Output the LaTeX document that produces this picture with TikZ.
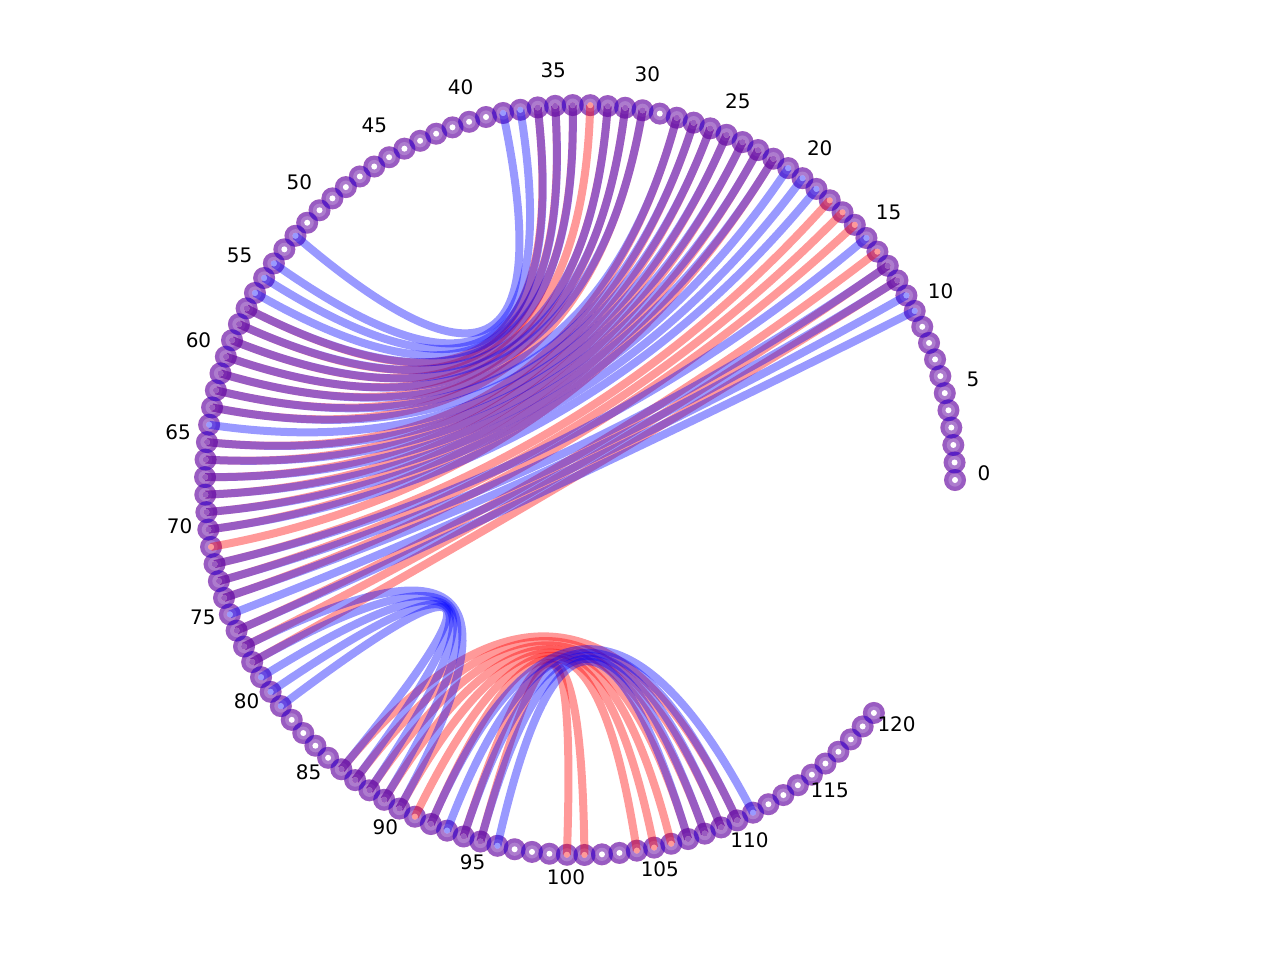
\documentclass[tikz,border=0pt]{standalone}
\usepackage{fontspec}
\setmainfont{DejaVu Sans}
\usetikzlibrary{calc}
\begin{document}
\begin{tikzpicture}[x=0.5pt,y=-0.5pt,
  redarc/.style={draw=red, draw opacity=0.4, line width=4pt, line cap=butt},
  bluearc/.style={draw=blue, draw opacity=0.4, line width=4pt, line cap=butt},
  lbl/.style={font=\fontsize{10}{12}\selectfont, inner sep=0pt, text=black}]
\useasboundingbox (0,0) rectangle (1280,960);
\coordinate (ctr) at (580,480);
% node positions
\foreach \i in {0,...,120}{\coordinate (n\i) at ({580+375*cos(2.68*\i)},{480-375*sin(2.68*\i)});}
% node discs (two overlaid structures)
\foreach \i in {0,...,120}{\fill[red,opacity=0.4] (n\i) circle[radius=5.5pt];}
\foreach \i in {0,...,120}{\fill[blue,opacity=0.4] (n\i) circle[radius=5.5pt];}
\foreach \i in {0,...,120}{\fill[white,opacity=0.2] (n\i) circle[radius=3.3pt];}
% red structure arcs
\foreach \a/\b in {36/57,35/58,34/59,33/60,32/61,31/62,30/63,28/65,27/66,26/67,25/68,24/69,23/70,22/71,18/72,17/73,16/74,14/76,13/77,12/78,86/110,87/109,88/108,89/107,90/106,91/105,92/104,94/101,95/100}
  {\draw[redarc] (n\a) .. controls ($(n\a)!0.6667!(ctr)$) and ($(n\b)!0.6667!(ctr)$) .. (n\b);}
% blue structure arcs
\foreach \a/\b in {38/52,37/54,36/55,35/56,34/57,32/58,31/59,30/60,28/61,27/62,26/63,25/64,24/65,23/66,22/67,21/68,20/69,19/70,15/72,13/73,12/74,11/75,10/76,77/90,78/89,79/88,80/87,81/86,92/111,93/110,94/109,95/108,96/107}
  {\draw[bluearc] (n\a) .. controls ($(n\a)!0.6667!(ctr)$) and ($(n\b)!0.6667!(ctr)$) .. (n\b);}
% centre dots
\foreach \i in {0,...,120}{\fill[white] (n\i) circle[radius=1.5pt];}
\foreach \a/\b in {36/57,35/58,34/59,33/60,32/61,31/62,30/63,28/65,27/66,26/67,25/68,24/69,23/70,22/71,18/72,17/73,16/74,14/76,13/77,12/78,86/110,87/109,88/108,89/107,90/106,91/105,92/104,94/101,95/100}
  {\fill[red,opacity=0.4] (n\a) circle[radius=1.5pt] (n\b) circle[radius=1.5pt];}
\foreach \a/\b in {38/52,37/54,36/55,35/56,34/57,32/58,31/59,30/60,28/61,27/62,26/63,25/64,24/65,23/66,22/67,21/68,20/69,19/70,15/72,13/73,12/74,11/75,10/76,77/90,78/89,79/88,80/87,81/86,92/111,93/110,94/109,95/108,96/107}
  {\fill[blue,opacity=0.4] (n\a) circle[radius=1.5pt] (n\b) circle[radius=1.5pt];}
% labels
\foreach \i in {0,5,...,120}{\node[lbl] (l\i) at ({580+404*cos(2.68*\i)},{473-404*sin(2.68*\i)}) {\i};}
\end{tikzpicture}
\end{document}
